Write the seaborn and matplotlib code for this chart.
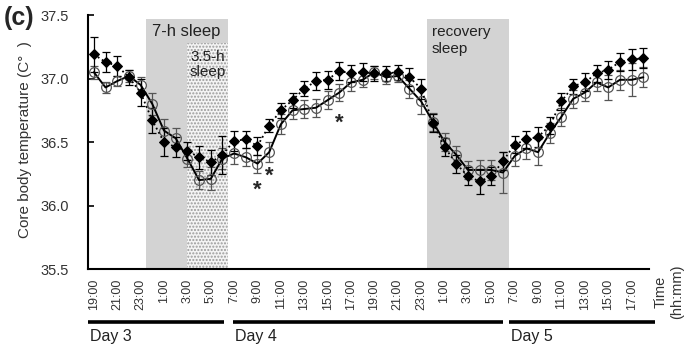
import numpy as np
import pandas as pd
import matplotlib
matplotlib.use("Agg")
import matplotlib.pyplot as plt
import seaborn as sns

# ---- data ----
diamond = [37.19, 37.13, 37.10, 37.01, 36.89, 36.67, 36.50, 36.46, 36.43, 36.38,
           36.34, 36.40, 36.51, 36.52, 36.47, 36.63, 36.75, 36.83, 36.92, 36.98,
           36.99, 37.06, 37.04, 37.05, 37.04, 37.04, 37.05, 37.01, 36.92, 36.65,
           36.46, 36.33, 36.23, 36.19, 36.23, 36.35, 36.48, 36.52, 36.54, 36.63,
           36.82, 36.94, 36.97, 37.04, 37.07, 37.13, 37.15, 37.16]
diamond_err = [0.14, 0.08, 0.08, 0.06, 0.11, 0.10, 0.11, 0.08, 0.07, 0.09,
               0.10, 0.15, 0.08, 0.07, 0.07, 0.05, 0.06, 0.06, 0.06, 0.07,
               0.07, 0.07, 0.07, 0.07, 0.06, 0.06, 0.06, 0.07, 0.08, 0.07,
               0.07, 0.07, 0.07, 0.10, 0.07, 0.07, 0.07, 0.07, 0.08, 0.07,
               0.07, 0.06, 0.07, 0.07, 0.07, 0.07, 0.08, 0.08]
circle = [37.05, 36.93, 36.98, 37.02, 36.95, 36.80, 36.59, 36.53, 36.37, 36.20,
          36.21, 36.37, 36.41, 36.38, 36.33, 36.42, 36.64, 36.75, 36.76, 36.77,
          36.83, 36.89, 36.97, 36.99, 37.05, 37.01, 37.02, 36.92, 36.82, 36.66,
          36.50, 36.40, 36.28, 36.28, 36.28, 36.26, 36.39, 36.45, 36.42, 36.57,
          36.70, 36.84, 36.89, 36.97, 36.93, 36.99, 36.99, 37.01]
circle_err = [0.05, 0.04, 0.04, 0.05, 0.06, 0.09, 0.09, 0.08, 0.07, 0.07,
              0.09, 0.08, 0.08, 0.07, 0.07, 0.08, 0.08, 0.07, 0.07, 0.07,
              0.07, 0.07, 0.07, 0.06, 0.05, 0.05, 0.05, 0.07, 0.10, 0.07,
              0.07, 0.07, 0.07, 0.08, 0.08, 0.16, 0.08, 0.08, 0.10, 0.08,
              0.07, 0.07, 0.07, 0.07, 0.10, 0.08, 0.13, 0.08]
tick_labels = ["19:00", "21:00", "23:00", "1:00", "3:00", "5:00", "7:00", "9:00",
               "11:00", "13:00", "15:00", "17:00", "19:00", "21:00", "23:00",
               "1:00", "3:00", "5:00", "7:00", "9:00", "11:00", "13:00", "15:00",
               "17:00"]
day_labels = ["Day 3", "Day 4", "Day 5"]
day_spans = [(-0.5, 11.1), (11.9, 35.0), (35.5, 48.0)]
sleep_7h = (4.5, 11.5)
sleep_35h = (8.0, 11.5)
sleep_recovery = (28.5, 35.5)
asterisks = [(14, 36.12), (15, 36.23), (21, 36.65)]

idx = np.arange(len(diamond))
df = pd.DataFrame({"idx": idx, "diamond": diamond, "circle": circle})

sns.set_style("white")
plt.rcParams["font.family"] = ["Liberation Sans", "DejaVu Sans"]

fig = plt.figure(figsize=(6.95, 3.5), dpi=100)
ax = fig.add_axes([0.1266, 0.2314, 0.934 - 0.1266, 0.957 - 0.2314])

txt = "#333333"

# shaded sleep periods
ax.fill_between(sleep_7h, 35.5, 37.47, color="#d3d3d3", lw=0, zorder=0)
ax.fill_between(sleep_35h, 35.5, 37.28, facecolor="#f4f4f4", edgecolor="#9a9a9a",
                hatch=".....", lw=0, zorder=0.5)
ax.fill_between(sleep_recovery, 35.5, 37.47, color="#d3d3d3", lw=0, zorder=0)

# error bars
ax.errorbar(idx, circle, yerr=circle_err, fmt="none", ecolor="#555555",
            elinewidth=0.9, capsize=3, capthick=0.9, zorder=2)
ax.errorbar(idx, diamond, yerr=diamond_err, fmt="none", ecolor="black",
            elinewidth=0.9, capsize=3, capthick=0.9, zorder=3)

# lines + markers
sns.lineplot(data=df, x="idx", y="circle", ax=ax, color="black", lw=1.4,
             marker="o", markersize=7, markerfacecolor="none",
             markeredgecolor="#555555", markeredgewidth=0.9, zorder=4)
sns.lineplot(data=df, x="idx", y="diamond", ax=ax, color="black", lw=1.3,
             linestyle=":", marker="D", markersize=5, markerfacecolor="black",
             markeredgecolor="black", zorder=5)

for xi, yi in asterisks:
    ax.text(xi, yi, "*", ha="center", va="center", fontsize=16, fontweight="bold")

ax.set_xlim(-0.5, 47.5)
ax.set_ylim(35.5, 37.5)
ax.set_yticks([35.5, 36.0, 36.5, 37.0, 37.5])
ax.set_yticklabels(["35.5", "36.0", "36.5", "37.0", "37.5"], fontsize=10.5, color=txt)
ax.set_xticks(np.arange(0, 48, 2))
ax.set_xticklabels(tick_labels, rotation=90, fontsize=9, color=txt, va="top")
ax.set_xticks(np.arange(-0.5, 48.0, 1.0), minor=True)
ax.tick_params(axis="x", which="major", length=0, pad=7)
ax.tick_params(axis="x", which="minor", direction="in", length=4, width=1.2, color="black")
ax.tick_params(axis="y", direction="in", length=4, width=1.2, color="black", left=True, pad=14)
for s in ["top", "right"]:
    ax.spines[s].set_visible(False)
for s in ["left", "bottom"]:
    ax.spines[s].set_color("black")
    ax.spines[s].set_linewidth(1.5)

ax.set_xlabel("")
ax.set_ylabel("")
fig.text(25 / 695, 1 - 140 / 350, "Core body temperature (C°  )", rotation=90,
         ha="center", va="center", fontsize=11, color=txt)

# labels in shaded areas
ax.text(7.9, 37.37, "7-h sleep", ha="center", va="center", fontsize=12, color="#222222")
ax.text(9.75, 37.11, "3.5-h\nsleep", ha="center", va="center", fontsize=11,
        color="#222222", linespacing=1.15)
ax.text(28.9, 37.30, "recovery\nsleep", ha="left", va="center", fontsize=11,
        color="#222222", linespacing=1.25)

# day bars
trans = ax.get_xaxis_transform()
for (x0, x1), lab in zip(day_spans, day_labels):
    ax.plot([x0, x1], [-0.209, -0.209], color="black", lw=2.6, transform=trans,
            clip_on=False, solid_capstyle="butt")
    ax.text(x0 + 0.2, -0.265, lab, transform=trans, ha="left", va="center",
            fontsize=11.5, color="#222222")

fig.text(669 / 695, 1 - 292 / 350, "Time\n(hh:mm)", rotation=90, ha="center",
         va="center", fontsize=10.5, color=txt, multialignment="center")
fig.text(4 / 695, 1 - 18 / 350, "(c)", fontsize=18, fontweight="bold", ha="left",
         va="center")

fig.savefig("out.png", dpi=100)
